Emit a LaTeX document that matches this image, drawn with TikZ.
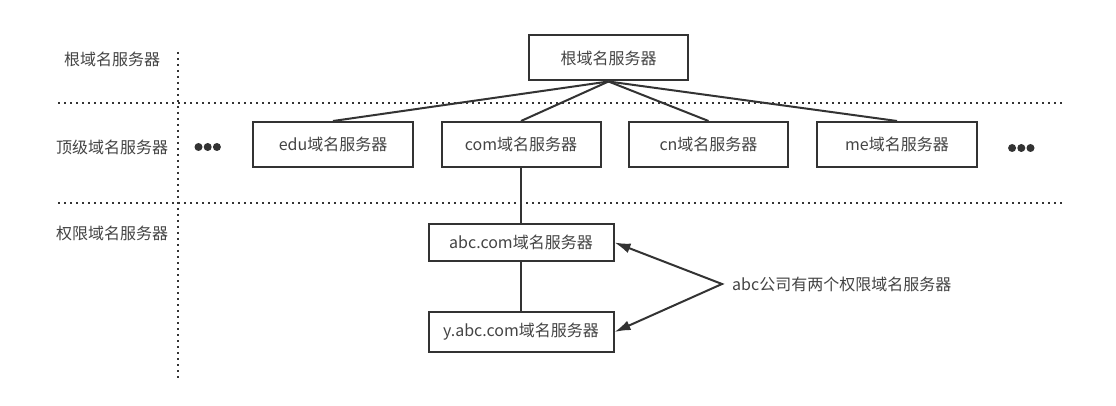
\documentclass[tikz,border=0pt]{standalone}
\usepackage{fontspec}
\setmainfont{Noto Sans CJK SC}
\usetikzlibrary{arrows.meta}
\definecolor{ln}{HTML}{333333}
\definecolor{tx}{HTML}{444444}
\tikzset{
  srv/.style={draw=ln, line width=2pt, minimum height=45pt, inner sep=0pt, text=tx, font=\fontsize{16}{19}\selectfont},
  lvl/.style={text=tx, inner sep=0pt, font=\fontsize{16}{19}\selectfont},
  conn/.style={draw=ln, line width=2pt},
  sep/.style={draw=ln, line width=2pt, dash pattern=on 2pt off 4pt},
  more/.style={fill=ln},
}
\begin{document}
\begin{tikzpicture}[x=1pt,y=-1pt]
\useasboundingbox (0,0) rectangle (1116,406);
\fill[white] (0,0) rectangle (1116,406);
% separators
\coordinate (h1a) at (58,103);  \coordinate (h1b) at (1062,103);
\coordinate (h2a) at (58,203);  \coordinate (h2b) at (1062,203);
\coordinate (va) at (178,52);   \coordinate (vb) at (178,380);
\draw[sep] (h1a) -- (h1b);
\draw[sep] (h2a) -- (h2b);
\draw[sep] (va) -- (vb);
% level labels
\node[lvl] (l1) at (112,59) {根域名服务器};
\node[lvl] (l2) at (112,147) {顶级域名服务器};
\node[lvl] (l3) at (112,233) {权限域名服务器};
% servers
\node[srv, minimum width=159pt] (root) at (608.5,58) {根域名服务器};
\node[srv, minimum width=160pt] (edu) at (333,144.5) {edu域名服务器};
\node[srv, minimum width=159pt] (com) at (521,144.5) {com域名服务器};
\node[srv, minimum width=159pt] (cn) at (708.5,144.5) {cn域名服务器};
\node[srv, minimum width=160pt] (me) at (897,144.5) {me域名服务器};
\node[srv, minimum width=185pt, minimum height=37pt] (abc) at (521,242.5) {abc.com域名服务器};
\node[srv, minimum width=185pt, minimum height=40pt] (yabc) at (521,332) {y.abc.com域名服务器};
% ellipsis
\coordinate (dl) at (207.7,147);
\coordinate (dr) at (1021.3,148);
\foreach \d in {-9.2,0,9.2} {
  \fill[more] ([xshift=\d pt]dl) circle (4);
  \fill[more] ([xshift=\d pt]dr) circle (4);
}
% connectors
\draw[conn] (root.south) -- (edu.north);
\draw[conn] (root.south) -- (com.north);
\draw[conn] (root.south) -- (cn.north);
\draw[conn] (root.south) -- (me.north);
\draw[conn] (com.south) -- (abc.north);
\draw[conn] (abc.south) -- (yabc.north);
% note
\node[lvl, anchor=west] (note) at (732,284) {abc公司有两个权限域名服务器};
\coordinate (fork) at ([xshift=-10pt]note.west);
\draw[conn, {Latex[length=16pt,width=10pt]}-{Latex[length=16pt,width=10pt]}] (abc.east) -- (fork) -- (yabc.east);
\end{tikzpicture}
\end{document}
